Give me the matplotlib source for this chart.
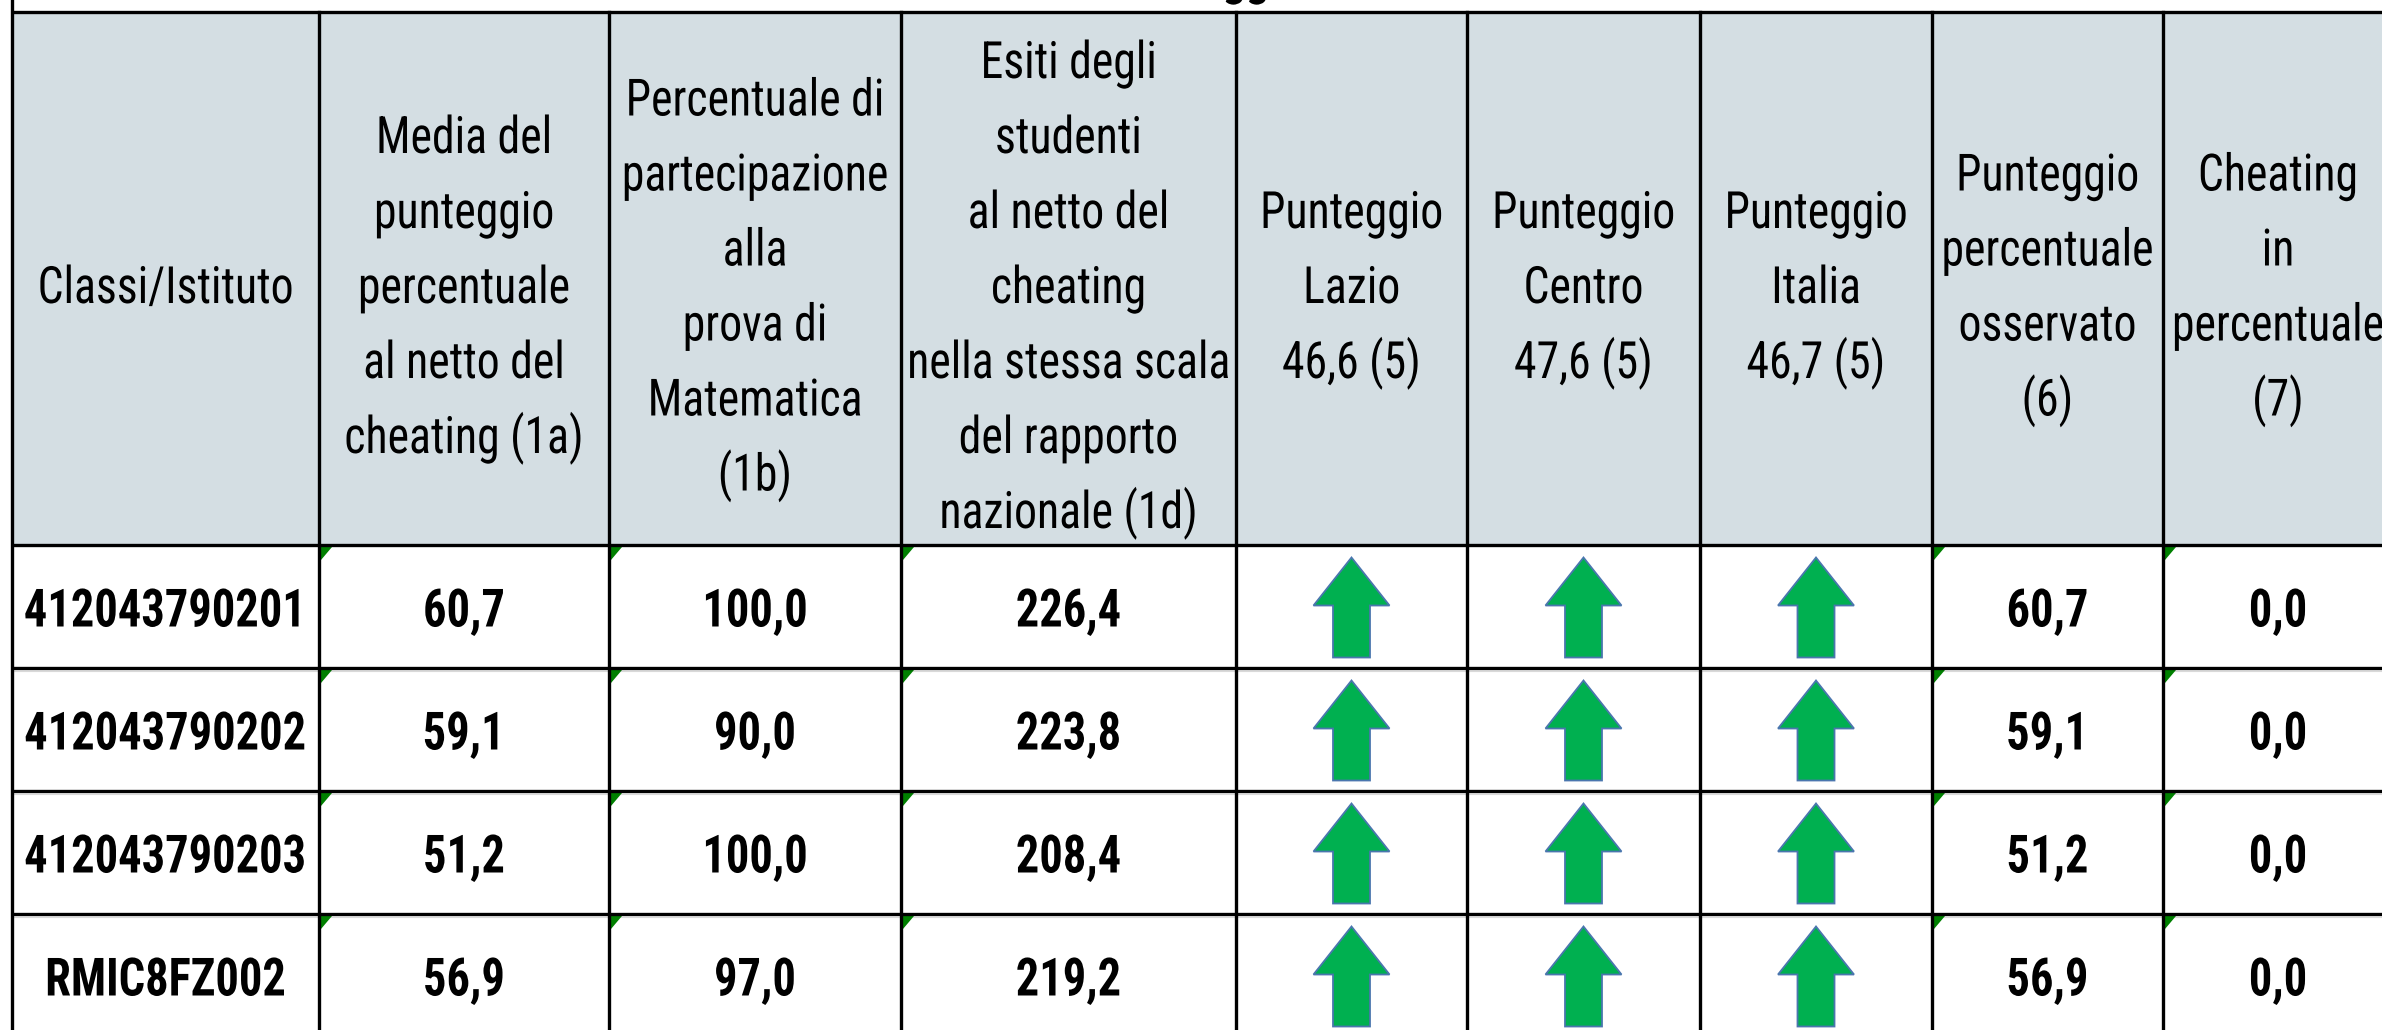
import matplotlib
matplotlib.use('Agg')
import matplotlib.pyplot as plt
from matplotlib import font_manager
from matplotlib.patheffects import AbstractPathEffect
from matplotlib.transforms import Affine2D

# dati della tavola
classi = ['412043790201', '412043790202', '412043790203', 'RMIC8FZ002']
media_netto = [60.7, 59.1, 51.2, 56.9]
partecipazione = [100.0, 90.0, 100.0, 97.0]
esiti_netto = [226.4, 223.8, 208.4, 219.2]
confronto_lazio = ['su', 'su', 'su', 'su']
confronto_centro = ['su', 'su', 'su', 'su']
confronto_italia = ['su', 'su', 'su', 'su']
punteggio_osservato = [60.7, 59.1, 51.2, 56.9]
cheating = [0.0, 0.0, 0.0, 0.0]

intestazioni = [
    'Classi/Istituto',
    'Media del\npunteggio\npercentuale\nal netto del\ncheating (1a)',
    'Percentuale di\npartecipazione\nalla\nprova di\nMatematica\n(1b)',
    'Esiti degli\nstudenti\nal netto del\ncheating\nnella stessa scala\ndel rapporto\nnazionale (1d)',
    'Punteggio\nLazio\n46,6 (5)',
    'Punteggio\nCentro\n47,6 (5)',
    'Punteggio\nItalia\n46,7 (5)',
    'Punteggio\npercentuale\nosservato\n(6)',
    'Cheating\nin\npercentuale\n(7)',
]
titolo = 'Punteggi'

# font stretto simile a Calibri
nomi = {f.name for f in font_manager.fontManager.ttflist}
font = 'DejaVu Sans'
for f in ['Liberation Sans Narrow', 'Roboto Condensed', 'Open Sans Condensed', 'Liberation Sans']:
    if f in nomi:
        font = f
        break
plt.rcParams['font.family'] = [font, 'DejaVu Sans']


class Stretto(AbstractPathEffect):
    # restringe il testo in orizzontale attorno al suo centro
    def __init__(self, sx):
        super().__init__()
        self.sx = sx

    def draw_path(self, renderer, gc, tpath, affine, rgbFace=None):
        ext = tpath.get_extents()
        cx = (ext.x0 + ext.x1) / 2
        t = Affine2D().translate(-cx, 0).scale(self.sx, 1).translate(cx, 0) + affine
        renderer.draw_path(gc, tpath, t, rgbFace)


def fmt(v):
    return f'{v:.1f}'.replace('.', ',')

colonne = [
    classi,
    [fmt(v) for v in media_netto],
    [fmt(v) for v in partecipazione],
    [fmt(v) for v in esiti_netto],
    confronto_lazio,
    confronto_centro,
    confronto_italia,
    [fmt(v) for v in punteggio_osservato],
    [fmt(v) for v in cheating],
]
# celle con il triangolino verde (numero come testo)
con_triangolo = [1, 2, 3, 7, 8]

W, H = 2382, 1030
fig = plt.figure(figsize=(W / 100, H / 100), dpi=100)
ax = fig.add_axes([0, 0, 1, 1])
ax.set_xlim(0, W)
ax.set_ylim(H, 0)
ax.axis('off')

x_bordi = [12, 319, 609, 901, 1236, 1467, 1700, 1932, 2163, 2393]
y_bordi = [12, 545, 668, 791, 914, 1037]

# sfondo intestazione
ax.add_patch(plt.Rectangle((x_bordi[0], y_bordi[0]), x_bordi[-1] - x_bordi[0],
                           y_bordi[1] - y_bordi[0], color='#D4DEE3', lw=0, zorder=0))

# titolo (tagliato in alto)
ax.text(1290, -6, titolo, ha='right', va='baseline', fontsize=37,
        fontweight='bold', color='black', path_effects=[Stretto(0.9)])

# testi intestazione
passo = 75
for j, testo in enumerate(intestazioni):
    cx = (x_bordi[j] + x_bordi[j + 1]) / 2
    righe = testo.split('\n')
    n = len(righe)
    for i, r in enumerate(righe):
        yc = 285 + (i - (n - 1) / 2) * passo
        ax.text(cx, yc + 18, r, ha='center', va='baseline', fontsize=37,
                color='black', zorder=3, path_effects=[Stretto(0.89)])

# righe dati
for j, col in enumerate(colonne):
    cx = (x_bordi[j] + x_bordi[j + 1]) / 2
    for i, val in enumerate(col):
        y0, y1 = y_bordi[i + 1], y_bordi[i + 2]
        yc = (y0 + y1) / 2
        if val == 'su':
            ax.arrow(cx, yc + 51, 0, -100, width=37, head_width=76, head_length=48,
                     length_includes_head=True, fc='#00B050', ec='#4A76AE',
                     lw=1.3, zorder=3)
        else:
            ax.text(cx, yc + 20, val, ha='center', va='baseline', fontsize=38,
                    fontweight='bold', color='black', zorder=3,
                    path_effects=[Stretto(0.88)])
        if j in con_triangolo:
            x0 = x_bordi[j]
            ax.add_patch(plt.Polygon([(x0 + 2, y0 + 2), (x0 + 13, y0 + 2), (x0 + 2, y0 + 15)],
                                     closed=True, color='#008000', lw=0, zorder=4))

# griglia
for y in y_bordi[2:]:
    ax.plot([x_bordi[0], W], [y + 3, y + 3], color='#D9D9D9', lw=0.8, zorder=1)
for y in y_bordi:
    ax.plot([x_bordi[0], W + 10], [y, y], color='black', lw=2.4, zorder=5,
            solid_capstyle='butt')
ax.plot([x_bordi[0], x_bordi[0]], [-5, H + 10], color='black', lw=2.4, zorder=5)
for x in x_bordi[1:]:
    ax.plot([x, x], [y_bordi[0], H + 10], color='black', lw=2.4, zorder=5)

fig.savefig('out.png', dpi=100)
